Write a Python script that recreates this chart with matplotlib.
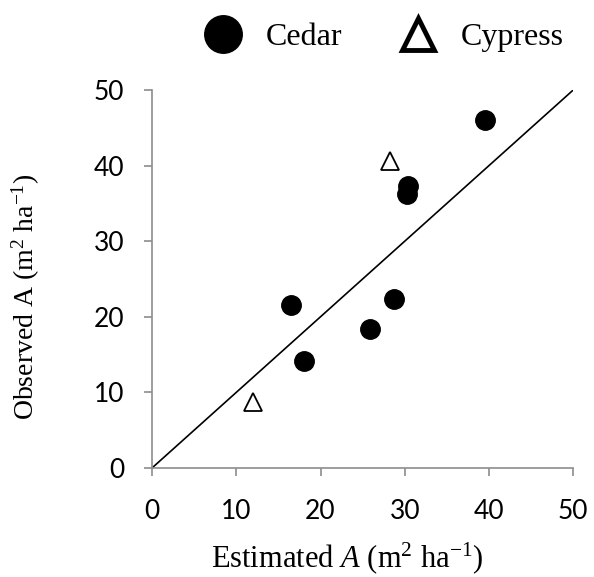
import matplotlib.pyplot as plt

plt.rcParams["mathtext.fontset"] = "custom"
plt.rcParams["mathtext.rm"] = "Liberation Serif"
plt.rcParams["mathtext.it"] = "Liberation Serif:italic"

# estimated vs observed A (m2 ha-1)
cedar_est = [39.5, 30.4, 30.3, 16.5, 28.7, 25.9, 18.0]
cedar_obs = [46.0, 37.3, 36.3, 21.5, 22.4, 18.4, 14.1]
cypress_est = [28.2, 12.0]
cypress_obs = [40.6, 8.7]
ticks = [0, 10, 20, 30, 40, 50]

fig = plt.figure(figsize=(5.94, 5.77), dpi=100)
ax = fig.add_axes([0.256, 0.189, 0.709, 0.655])

ax.plot([0, 50], [0, 50], color="black", linewidth=1.2, zorder=1)
ax.plot(cedar_est, cedar_obs, "o", color="black", markersize=14, label="Cedar", zorder=3)
ax.plot(cypress_est, cypress_obs, "^", markerfacecolor="white", markeredgecolor="black",
        markeredgewidth=1.3, markersize=13, label="Cypress", linestyle="none", zorder=3)

ax.set_xlim(0, 50)
ax.set_ylim(0, 50)
ax.set_xticks(ticks)
ax.set_yticks(ticks)

for side in ["top", "right"]:
    ax.spines[side].set_visible(False)
for side in ["left", "bottom"]:
    ax.spines[side].set_color("#8c8c8c")
    ax.spines[side].set_linewidth(1.2)
ax.tick_params(direction="out", length=6, width=1.2, color="#8c8c8c",
               labelsize=19)
ax.tick_params(axis="y", pad=14)
ax.tick_params(axis="x", pad=16)
for lab in ax.get_xticklabels() + ax.get_yticklabels():
    lab.set_fontfamily("Lato")

ax.set_xlabel(r"Estimated $\mathit{A}$ (m$^{2}$ ha$^{\mathregular{-1}}$)",
              fontfamily="Liberation Serif", fontsize=22)
ax.set_ylabel(r"Observed A (m$^{2}$ ha$^{\mathregular{-1}}$)",
              fontfamily="Liberation Serif", fontsize=20)
ax.xaxis.set_label_coords(0.463, -0.19)
ax.yaxis.set_label_coords(-0.262, 0.453)

leg = fig.legend(loc="center", bbox_to_anchor=(0.645, 0.935), ncol=2, frameon=False,
                 prop={"family": "Liberation Serif", "size": 23},
                 handletextpad=0.7, columnspacing=1.7, handlelength=1.3)
leg.legend_handles[0].set_markersize(27)
leg.legend_handles[1].set_markersize(23)
leg.legend_handles[1].set_markeredgewidth(3.5)

plt.savefig("out.png", dpi=100)
